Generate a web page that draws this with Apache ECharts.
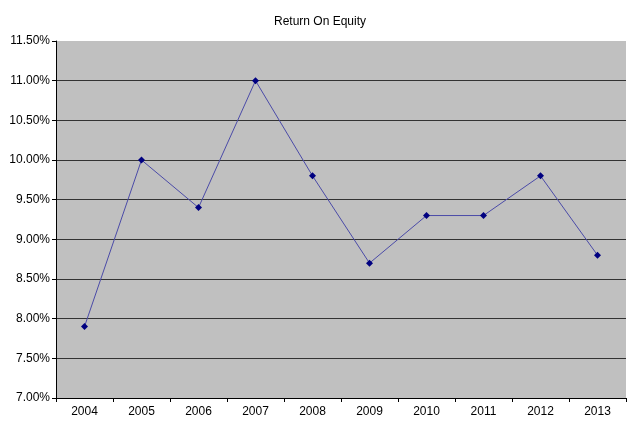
<!DOCTYPE html>
<html><head><meta charset="utf-8">
<script src="https://cdn.jsdelivr.net/npm/echarts@6/dist/echarts.min.js"></script>
<style>html,body{margin:0;padding:0;background:#fff}#c{width:640px;height:430px}</style>
</head><body><div id="c"></div>
<script>
const years = ['2004','2005','2006','2007','2008','2009','2010','2011','2012','2013'];
const roe = [7.9, 10.0, 9.4, 11.0, 9.8, 8.7, 9.3, 9.3, 9.8, 8.8];
const chart = echarts.init(document.getElementById('c'));
const font = 'Liberation Sans, Arial, sans-serif';
chart.setOption({
  animation: false,
  backgroundColor: '#fff',
  title: { text: 'Return On Equity', left: 'center', top: 11,
    textStyle: { fontFamily: font, fontSize: 12, fontWeight: 'normal', color: '#000' } },
  grid: { left: 56, right: 14, top: 41, bottom: 32, show: true, backgroundColor: '#C0C0C0', borderWidth: 0 },
  xAxis: { type: 'category', data: years, boundaryGap: true,
    axisLine: { lineStyle: { color: '#000', width: 1 } },
    axisTick: { show: true, alignWithLabel: false, length: 4, lineStyle: { color: '#000' } },
    axisLabel: { fontFamily: font, fontSize: 12, color: '#000', margin: 8 },
    splitLine: { show: false } },
  yAxis: { type: 'value', min: 7, max: 11.5, interval: 0.5,
    axisLine: { show: true, lineStyle: { color: '#000', width: 1 } },
    axisTick: { show: true, length: 4, lineStyle: { color: '#000' } },
    axisLabel: { fontFamily: font, fontSize: 12, color: '#000', margin: 6,
      formatter: v => v.toFixed(2) + '%' },
    splitLine: { show: true, showMaxLine: false, lineStyle: { color: '#333', width: 1 } } },
  series: [{ type: 'line', data: roe, symbol: 'diamond', symbolSize: 7,
    lineStyle: { color: '#4B4BA8', width: 1 },
    itemStyle: { color: '#000080' } }]
});
</script></body></html>
